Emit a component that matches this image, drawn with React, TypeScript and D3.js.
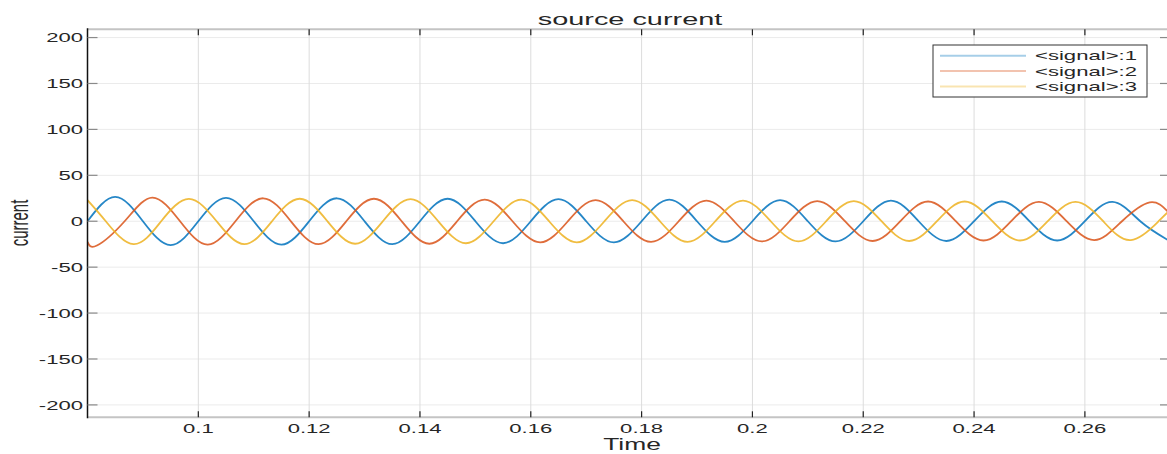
import React from "react";
import * as d3 from "d3";

const title = "source current";
const xLabel = "Time";
const yLabel = "current";
const xTicks = [0.1, 0.12, 0.14, 0.16, 0.18, 0.2, 0.22, 0.24, 0.26];
const xTickLabels = ["0.1", "0.12", "0.14", "0.16", "0.18", "0.2", "0.22", "0.24", "0.26"];
const yTicks = [-200, -150, -100, -50, 0, 50, 100, 150, 200];
const yTickLabels = ["-200", "-150", "-100", "-50", "0", "50", "100", "150", "200"];
const seriesNames = ["<signal>:1", "<signal>:2", "<signal>:3"];
const seriesColors = ["#0072BD", "#D95319", "#EDB120"];

// signal 1: samples at peaks / zero crossings
const t1 = [0.08, 0.085, 0.09, 0.095, 0.1, 0.105, 0.11, 0.115, 0.12, 0.125, 0.13, 0.135, 0.14, 0.145, 0.15, 0.155, 0.16, 0.165, 0.17, 0.175, 0.18, 0.185, 0.19, 0.195, 0.2, 0.205, 0.21, 0.215, 0.22, 0.225, 0.23, 0.235, 0.24, 0.245, 0.25, 0.255, 0.26, 0.265, 0.27, 0.275];
const v1 = [0, 26.5, 0, -26, 0, 25.5, 0, -25.5, 0, 25, 0, -25, 0, 24.5, 0, -24, 0, 24, 0, -23, 0, 23.5, 0, -22.5, 0, 23, 0, -22, 0, 22.5, 0, -21.5, 0, 21.5, 0, -21, 0, 21, 0, -20.5];

// signal 2
const t2 = [0.08, 0.0817, 0.0867, 0.0917, 0.0967, 0.1017, 0.1067, 0.1117, 0.1167, 0.1217, 0.1267, 0.1317, 0.1367, 0.1417, 0.1467, 0.1517, 0.1567, 0.1617, 0.1667, 0.1717, 0.1767, 0.1817, 0.1867, 0.1917, 0.1967, 0.2017, 0.2067, 0.2117, 0.2167, 0.2217, 0.2267, 0.2317, 0.2367, 0.2417, 0.2467, 0.2517, 0.2567, 0.2617, 0.2667, 0.2717, 0.275];
const v2 = [-22.5, -26.5, 0, 25.8, 0, -25.5, 0, 25, 0, -25, 0, 24.5, 0, -24.5, 0, 23.5, 0, -23, 0, 23, 0, -22.5, 0, 22.5, 0, -22, 0, 22, 0, -21.5, 0, 21.5, 0, -21, 0, 21, 0, -20.5, 0, 20.5, 10.3];

// signal 3
const t3 = [0.08, 0.0833, 0.0883, 0.0933, 0.0983, 0.1033, 0.1083, 0.1133, 0.1183, 0.1233, 0.1283, 0.1333, 0.1383, 0.1433, 0.1483, 0.1533, 0.1583, 0.1633, 0.1683, 0.1733, 0.1783, 0.1833, 0.1883, 0.1933, 0.1983, 0.2033, 0.2083, 0.2133, 0.2183, 0.2233, 0.2283, 0.2333, 0.2383, 0.2433, 0.2483, 0.2533, 0.2583, 0.2633, 0.2683, 0.2733, 0.275];
const v3 = [23, 0, -25, 0, 24.3, 0, -25, 0, 24.5, 0, -24.5, 0, 24, 0, -24, 0, 23.5, 0, -23, 0, 23, 0, -22.5, 0, 22.5, 0, -22, 0, 22, 0, -21.5, 0, 21.5, 0, -21, 0, 21, 0, -20.5, 0, 10];

const W = 1167;
const H = 454;
const left = 87.5;
const right = 1168;
const top = 29.3;
const bottom = 417.3;
const SX = 1.7;
const FONT = "'Liberation Sans', Arial, Helvetica, sans-serif";
const TXT = "#262626";

function SText({ x, y, sx = SX, size, anchor = "start", baseline = "alphabetic", rotate = 0, children, weight = "normal" }: any) {
  return (
    <text
      transform={`translate(${x},${y}) scale(${sx},1)${rotate ? ` rotate(${rotate})` : ""}`}
      textAnchor={anchor}
      dominantBaseline={baseline}
      fontSize={size}
      fontFamily={FONT}
      fill={TXT}
      fontWeight={weight}
    >
      {children}
    </text>
  );
}

export default function App() {
  const x = d3.scaleLinear().domain([0.08, 0.275]).range([left, right]);
  const y = d3.scaleLinear().domain([-213.5, 209]).range([bottom, top]);
  const line = d3
    .line<[number, number]>()
    .x((d) => x(d[0]))
    .y((d) => y(d[1]))
    .curve(d3.curveNatural);

  const series = [
    { t: t1, v: v1 },
    { t: t2, v: v2 },
    { t: t3, v: v3 },
  ];

  const legendX = 933;
  const legendY = 45;
  const rowY = [55.7, 71, 86.5];

  return (
    <svg width={W} height={H} style={{ position: "absolute", left: 0, top: 0, background: "#fff" }}>
      <defs>
        <clipPath id="plot">
          <rect x={left} y={top} width={right - left} height={bottom - top} />
        </clipPath>
      </defs>
      <rect x={0} y={0} width={W} height={H} fill="#fff" />
      {/* grid */}
      {yTicks.map((v) => (
        <line key={"gy" + v} x1={left} x2={right} y1={y(v)} y2={y(v)} stroke="#ebebeb" strokeWidth={1} />
      ))}
      {xTicks.map((v) => (
        <line key={"gx" + v} x1={x(v)} x2={x(v)} y1={top} y2={bottom} stroke="#dcdcdc" strokeWidth={1} />
      ))}
      {/* series */}
      <g clipPath="url(#plot)">
        {series.map((s, i) => (
          <path
            key={"s" + i}
            d={line(s.t.map((tt, j) => [tt, s.v[j]] as [number, number])) || ""}
            fill="none"
            stroke={seriesColors[i]}
            strokeOpacity={0.85}
            strokeWidth={1.8}
          />
        ))}
      </g>
      {/* frame */}
      <line x1={left} x2={right} y1={top} y2={top} stroke="#c4c4c4" strokeWidth={2} />
      <line x1={left} x2={right} y1={bottom} y2={bottom} stroke="#c4c4c4" strokeWidth={2} />
      <line x1={left} x2={left} y1={top - 1} y2={bottom + 1} stroke="#111" strokeWidth={1.5} />
      {/* ticks */}
      {xTicks.map((v) => (
        <g key={"tx" + v}>
          <line x1={x(v)} x2={x(v)} y1={bottom} y2={bottom - 6} stroke="#222" strokeWidth={1.2} />
          <line x1={x(v)} x2={x(v)} y1={top} y2={top + 6} stroke="#222" strokeWidth={1.2} />
        </g>
      ))}
      {yTicks.map((v) => (
        <g key={"ty" + v}>
          <line x1={left} x2={left + 10} y1={y(v)} y2={y(v)} stroke="#8a8a8a" strokeWidth={1.2} />
          <line x1={right - 8} x2={right} y1={y(v)} y2={y(v)} stroke="#8a8a8a" strokeWidth={1.2} />
        </g>
      ))}
      {/* tick labels */}
      {xTicks.map((v, i) => (
        <SText key={"lx" + v} x={x(v)} y={432.5} size={13} anchor="middle">
          {xTickLabels[i]}
        </SText>
      ))}
      {yTicks.map((v, i) => (
        <SText key={"ly" + v} x={83} y={y(v) + 4.6} size={13} anchor="end">
          {yTickLabels[i]}
        </SText>
      ))}
      {/* labels */}
      <SText x={630} y={25} size={17} anchor="middle">{title}</SText>
      <SText x={632} y={450} size={16} anchor="middle" sx={1.65}>{xLabel}</SText>
      <SText x={28} y={223} size={15} anchor="middle" rotate={-90}>{yLabel}</SText>
      {/* legend */}
      <rect x={legendX} y={legendY} width={214} height={52} fill="#fff" stroke="#333" strokeWidth={1} />
      {seriesNames.map((n, i) => (
        <g key={"lg" + i}>
          <line x1={940} x2={1026} y1={rowY[i]} y2={rowY[i]} stroke={seriesColors[i]} strokeOpacity={0.35} strokeWidth={2} />
          <SText x={1035} y={rowY[i] + 4.6} size={13}>{n}</SText>
        </g>
      ))}
    </svg>
  );
}
